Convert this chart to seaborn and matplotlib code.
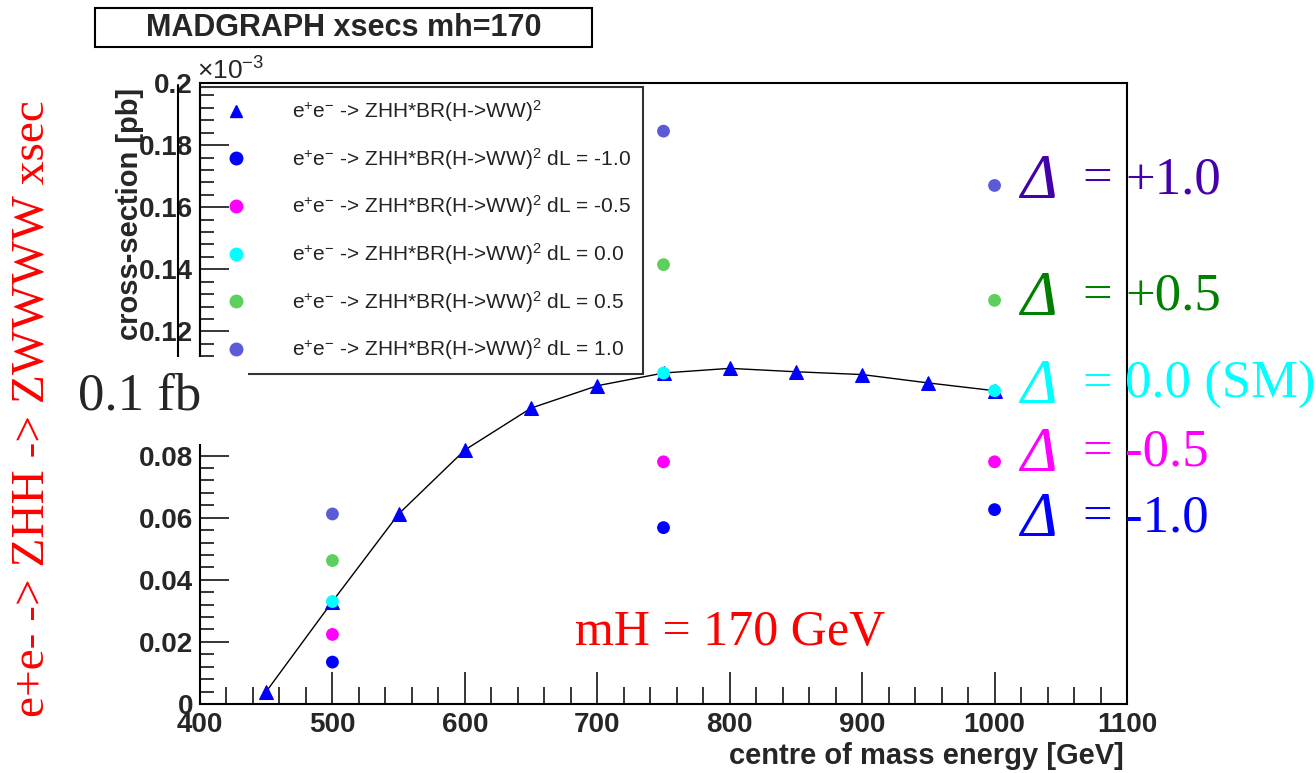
import numpy as np
import pandas as pd
import matplotlib
matplotlib.use("Agg")
import matplotlib.pyplot as plt
import seaborn as sns
from matplotlib.lines import Line2D
from matplotlib.patches import Rectangle
from matplotlib.ticker import MultipleLocator, FuncFormatter

# ---------------- data (cross-section in units of 1e-3 pb) ----------------
energy_sm = [450, 500, 550, 600, 650, 700, 750, 800, 850, 900, 950, 1000]
xsec_sm = [0.0040, 0.0330, 0.0612, 0.0818, 0.0953, 0.1025, 0.1066, 0.1081,
           0.1070, 0.1061, 0.1034, 0.1009]

energy_dl = [500, 750, 1000]
xsec_dl_m10 = [0.0135, 0.0568, 0.0626]
xsec_dl_m05 = [0.0224, 0.0780, 0.0780]
xsec_dl_00 = [0.0330, 0.1066, 0.1009]
xsec_dl_p05 = [0.0462, 0.1415, 0.1300]
xsec_dl_p10 = [0.0612, 0.1845, 0.1670]
dl_values = ["-1.0", "-0.5", "0.0", "0.5", "1.0"]
dl_colors = ["#0000ff", "#ff00ff", "#00ffff", "#5ccf5c", "#5b5bd8"]

annot_labels = ["+1.0", "+0.5", "0.0 (SM)", "-0.5", "-1.0"]
annot_colors = ["#4400aa", "#008000", "#00ffff", "#ff00ff", "#0000ff"]

title_text = "MADGRAPH xsecs mh=170"
x_label = "centre of mass energy [GeV]"
y_label = "cross-section [pb]"

# ---------------- figure ----------------
sns.set_style("ticks")
plt.rcParams["font.family"] = ["Liberation Sans", "DejaVu Sans"]
plt.rcParams["mathtext.fontset"] = "custom"
plt.rcParams["mathtext.rm"] = "Liberation Sans"
plt.rcParams["mathtext.it"] = "Liberation Sans:italic"
plt.rcParams["mathtext.bf"] = "Liberation Sans:bold"

W, H = 1316, 773
fig = plt.figure(figsize=(W / 100, H / 100), dpi=100)
fig.patch.set_facecolor("white")

def fx(px):
    return px / W

def fy(py):
    return 1 - py / H

ax = fig.add_axes([fx(200), fy(704), fx(1127) - fx(200), fy(83) - fy(704)])

# SM curve with triangles
sns.lineplot(x=energy_sm, y=xsec_sm, ax=ax, color="black", lw=1.0,
             marker="^", markersize=10, markerfacecolor="#0000ff",
             markeredgecolor="#0000ff", zorder=3)

# dL points
df = pd.DataFrame({
    "energy": energy_dl * 5,
    "xsec": xsec_dl_m10 + xsec_dl_m05 + xsec_dl_00 + xsec_dl_p05 + xsec_dl_p10,
    "dL": sum([[v] * 3 for v in dl_values], []),
})
sns.scatterplot(data=df, x="energy", y="xsec", hue="dL", hue_order=dl_values,
                palette=dl_colors, s=85, marker="o", edgecolor="none",
                ax=ax, legend=False, zorder=4)

ax.set_xlim(400, 1100)
ax.set_ylim(0, 0.2)
ax.set_xlabel("")
ax.set_ylabel("")
ax.xaxis.set_major_locator(MultipleLocator(100))
ax.xaxis.set_minor_locator(MultipleLocator(20))
ax.yaxis.set_major_locator(MultipleLocator(0.02))
ax.yaxis.set_minor_locator(MultipleLocator(0.004))
ax.yaxis.set_major_formatter(FuncFormatter(lambda v, p: "%g" % round(v, 3)))
ax.xaxis.set_major_formatter(FuncFormatter(lambda v, p: "%d" % v))
ax.tick_params(axis="y", which="major", direction="in", length=21, width=1.3,
               labelsize=20, pad=5)
ax.tick_params(axis="y", which="minor", direction="in", length=10, width=1.3)
ax.tick_params(axis="x", which="major", direction="in", length=23, width=1.3,
               labelsize=20, pad=6)
ax.tick_params(axis="x", which="minor", direction="in", length=12, width=1.3)
for lab in ax.get_xticklabels() + ax.get_yticklabels():
    lab.set_fontweight("bold")
for sp in ax.spines.values():
    sp.set_linewidth(1.5)
    sp.set_color("black")

# legend
handles = [Line2D([], [], marker="^", color="#0000ff", ls="none", ms=9)]
labels = [r"e$^{+}$e$^{-}$ -> ZHH*BR(H->WW)$^{2}$"]
for v, c in zip(dl_values, dl_colors):
    handles.append(Line2D([], [], marker="o", color=c, ls="none", ms=9))
    labels.append(r"e$^{+}$e$^{-}$ -> ZHH*BR(H->WW)$^{2}$ dL = " + v)
leg = ax.legend(handles, labels, loc="upper left",
                bbox_to_anchor=(fx(200), fy(87)), bbox_transform=fig.transFigure,
                fontsize=15, frameon=True, fancybox=False, shadow=False,
                borderpad=0.55, handlelength=2.36, handletextpad=1.51,
                labelspacing=1.04, borderaxespad=0)
leg.get_frame().set_edgecolor("black")
leg.get_frame().set_linewidth(1.5)
leg.get_frame().set_facecolor("none")
for t in leg.get_texts():
    t.set_color("#222222")

# exponent label
fig.text(fx(197), fy(80), r"$\times$10$^{-3}$", fontsize=19, ha="left",
         va="baseline")

# axis titles
fig.text(fx(1124), fy(764), x_label, fontsize=21, fontweight="bold",
         ha="right", va="baseline")
fig.text(fx(130), fy(88), y_label, fontsize=21, fontweight="bold",
         rotation=90, ha="center", va="top")

# title box
fig.add_artist(Rectangle((fx(95), fy(47)), fx(592) - fx(95), fy(8) - fy(47),
                         transform=fig.transFigure, facecolor="white",
                         edgecolor="black", lw=1.5, zorder=5))
fig.text(fx(343.5), fy(28), title_text, fontsize=22, fontweight="bold",
         ha="center", va="center", zorder=6)

# extra line of the upper axis piece
fig.add_artist(Line2D([fx(178), fx(178)], [fy(85), fy(357)],
                      transform=fig.transFigure, color="black", lw=1.5,
                      zorder=5))

# white cover and 0.1 fb label
fig.add_artist(Rectangle((0, fy(444)), fx(248), fy(357) - fy(444),
                         transform=fig.transFigure, facecolor="white",
                         edgecolor="none", zorder=10))
fig.text(fx(78), fy(410), "0.1 fb", fontsize=38, family="Liberation Serif",
         ha="left", va="baseline", zorder=11)

# rotated red left label
fig.text(fx(32), fy(409), "e+e- -> ZHH -> ZWWWW xsec", fontsize=34,
         family="Liberation Serif", color="red", rotation=90,
         ha="center", va="center", zorder=11)

# mH label
fig.text(fx(575), fy(633), "mH = 170 GeV", fontsize=36,
         family="Liberation Serif", color="red", ha="left", va="center")

# Delta annotations
annot_y = [180, 297, 385, 453, 518]
for lab, col, yy in zip(annot_labels, annot_colors, annot_y):
    fig.text(fx(1020), fy(yy + 18), "\u0394", fontsize=45,
             family="Liberation Serif", style="italic", color=col,
             ha="left", va="baseline", zorder=12)
    fig.text(fx(1082), fy(yy), "=", fontsize=38, family="Liberation Serif",
             color=col, ha="left", va="center", zorder=12)
    fig.text(fx(1125), fy(yy), lab, fontsize=38, family="Liberation Serif",
             color=col, ha="left", va="center", zorder=12)

fig.savefig("out.png", dpi=100, facecolor="white")
